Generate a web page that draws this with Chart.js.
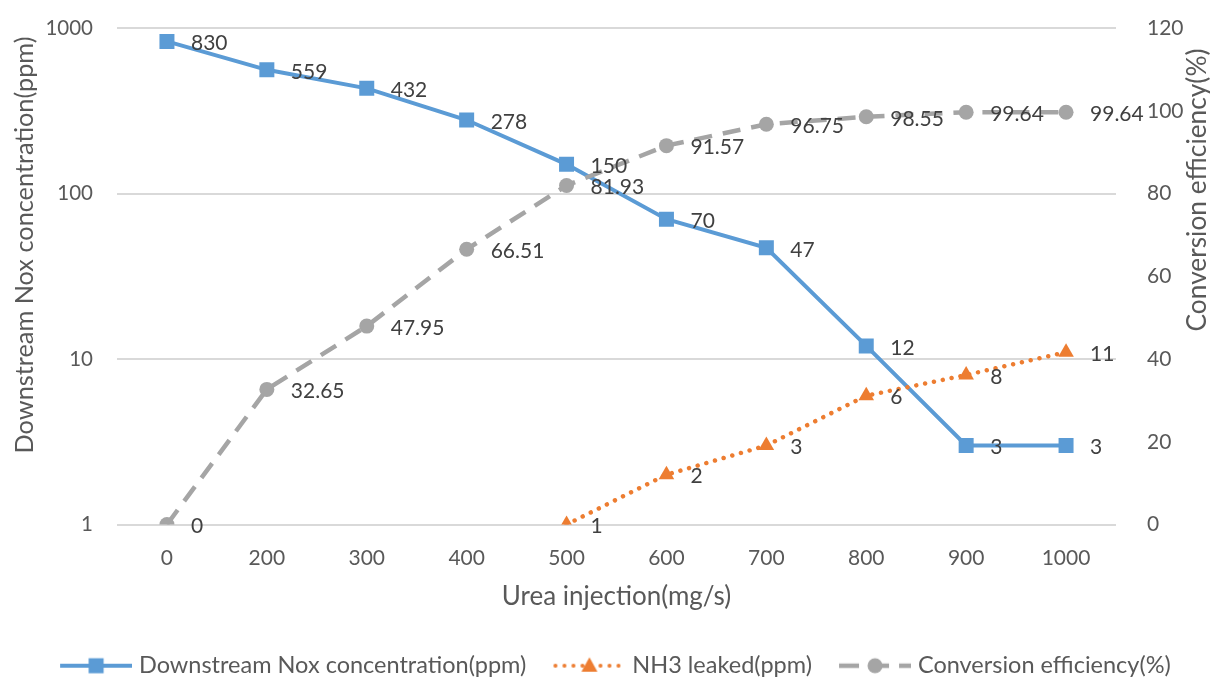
<!DOCTYPE html>
<html>
<head>
<meta charset="utf-8">
<script src="https://cdn.jsdelivr.net/npm/chart.js@4.4.0/dist/chart.umd.min.js"></script>
<style>
  html, body { margin: 0; padding: 0; background: #fff; }
  #wrap { width: 1210px; height: 681px; }
</style>
</head>
<body>
<div id="wrap"><canvas id="myChart"></canvas></div>
<script>
const categories = ["0", "200", "300", "400", "500", "600", "700", "800", "900", "1000"];
const noxValues = [830, 559, 432, 278, 150, 70, 47, 12, 3, 3];
const nh3Values = [null, null, null, null, 1, 2, 3, 6, 8, 11];
const efficiencyValues = [0, 32.65, 47.95, 66.51, 81.93, 91.57, 96.75, 98.55, 99.64, 99.64];
const leftTicks = [1, 10, 100, 1000];
const rightTicks = [0, 20, 40, 60, 80, 100, 120];

const blue = "#5B9BD5";
const orange = "#ED7D31";
const gray = "#A5A5A5";
const textColor = "#595959";
const labelColor = "#404040";

Chart.defaults.font.family = "Lato";

// legend symbols: line + marker, drawn into the right part of a small canvas
function legendSymbol(draw) {
  const c = document.createElement("canvas");
  c.width = 94;
  c.height = 22;
  const g = c.getContext("2d");
  g.translate(22, 11);
  draw(g);
  return c;
}

const noxSymbol = legendSymbol((g) => {
  g.strokeStyle = blue;
  g.lineWidth = 4;
  g.beginPath(); g.moveTo(0, 0); g.lineTo(72, 0); g.stroke();
  g.fillStyle = blue;
  g.fillRect(36 - 7.5, -7.5, 15, 15);
});

const nh3Symbol = legendSymbol((g) => {
  g.strokeStyle = orange;
  g.lineWidth = 4;
  g.lineCap = "round";
  g.setLineDash([0.01, 9]);
  g.beginPath(); g.moveTo(2, 0); g.lineTo(72, 0); g.stroke();
  g.fillStyle = orange;
  g.beginPath(); g.moveTo(36, -8.5); g.lineTo(44, 6); g.lineTo(28, 6); g.closePath(); g.fill();
});

const effSymbol = legendSymbol((g) => {
  g.strokeStyle = gray;
  g.lineWidth = 4.5;
  g.setLineDash([20, 10]);
  g.beginPath(); g.moveTo(0, 0); g.lineTo(72, 0); g.stroke();
  g.fillStyle = gray;
  g.beginPath(); g.arc(36, 0, 7.5, 0, Math.PI * 2); g.fill();
});

const symbols = [noxSymbol, nh3Symbol, effSymbol];

const valueLabels = {
  id: "valueLabels",
  afterDatasetsDraw(chart) {
    const ctx = chart.ctx;
    ctx.save();
    ctx.font = "21px Lato";
    ctx.fillStyle = labelColor;
    ctx.textAlign = "left";
    ctx.textBaseline = "middle";
    chart.data.datasets.forEach((ds, i) => {
      const meta = chart.getDatasetMeta(i);
      meta.data.forEach((pt, j) => {
        const v = ds.data[j];
        if (v === null) return;
        ctx.fillText(String(v), pt.x + 24, pt.y + 2);
      });
    });
    ctx.restore();
  },
};

// both value-axis titles read bottom-to-top, placed like the original
const axisTitles = {
  id: "axisTitles",
  afterDraw(chart) {
    const ctx = chart.ctx;
    const draw = (text, x, y, size) => {
      ctx.save();
      ctx.translate(x, y);
      ctx.rotate(-Math.PI / 2);
      ctx.font = size + "px Lato";
      ctx.fillStyle = textColor;
      ctx.textAlign = "center";
      ctx.textBaseline = "alphabetic";
      ctx.fillText(text, 0, 0);
      ctx.restore();
    };
    draw("Downstream Nox concentration(ppm)", 32.5, 245, 25.3);
    draw("Conversion efficiency(%)", 1206, 190, 26.3);
  },
};

// keep tick padding from pushing the plot area down
function noScalePadding(scale) {
  scale.paddingTop = 0;
  scale.paddingBottom = 0;
}

const ctx = document.getElementById("myChart");

new Chart(ctx, {
  type: "line",
  data: {
    labels: categories,
    datasets: [
      {
        label: "Downstream Nox concentration(ppm)",
        data: noxValues,
        yAxisID: "y",
        borderColor: blue,
        backgroundColor: blue,
        borderWidth: 4,
        pointStyle: "rect",
        pointRadius: 10.6,
        pointHoverRadius: 10.6,
        pointBorderWidth: 0,
        pointBackgroundColor: blue,
        order: 3,
      },
      {
        label: "NH3 leaked(ppm)",
        data: nh3Values,
        yAxisID: "y",
        borderColor: orange,
        backgroundColor: orange,
        borderWidth: 4.5,
        borderDash: [0.01, 9],
        borderCapStyle: "round",
        pointStyle: "triangle",
        pointRadius: 9,
        pointHoverRadius: 9,
        pointBorderWidth: 0,
        pointBackgroundColor: orange,
        order: 2,
      },
      {
        label: "Conversion efficiency(%)",
        data: efficiencyValues,
        yAxisID: "y1",
        borderColor: gray,
        backgroundColor: gray,
        borderWidth: 4.5,
        borderDash: [18, 11],
        pointStyle: "circle",
        pointRadius: 7.5,
        pointHoverRadius: 7.5,
        pointBorderWidth: 0,
        pointBackgroundColor: gray,
        order: 1,
      },
    ],
  },
  options: {
    animation: false,
    responsive: true,
    maintainAspectRatio: false,
    events: [],
    layout: {
      padding: { left: 33, right: 0, top: 28, bottom: -6.5 },
    },
    scales: {
      x: {
        type: "category",
        offset: true,
        grid: { display: false },
        border: { display: false },
        ticks: {
          color: textColor,
          font: { size: 21 },
          padding: 13,
          maxRotation: 0,
        },
        title: {
          display: true,
          text: "Urea injection(mg/s)",
          color: textColor,
          font: { size: 26 },
          padding: { top: 0, bottom: 32 },
        },
        afterFit(scale) {
          scale.height = 119.5;
        },
      },
      y: {
        type: "logarithmic",
        position: "left",
        min: 1,
        max: 1000,
        grid: { color: "#D9D9D9", lineWidth: 2, drawTicks: false },
        border: { display: false },
        ticks: {
          color: textColor,
          font: { size: 20.5 },
          padding: 24,
          callback: (v) => String(v),
        },
        afterBuildTicks(scale) {
          scale.ticks = leftTicks.map((v) => ({ value: v }));
        },
        afterFit(scale) {
          scale.width = 84;
          noScalePadding(scale);
        },
      },
      y1: {
        type: "linear",
        position: "right",
        min: rightTicks[0],
        max: rightTicks[rightTicks.length - 1],
        grid: { display: false },
        border: { display: false },
        ticks: {
          stepSize: rightTicks[1] - rightTicks[0],
          color: textColor,
          font: { size: 21 },
          padding: 23,
        },
        afterFit(scale) {
          scale.width = 94;
          noScalePadding(scale);
        },
      },
    },
    plugins: {
      tooltip: { enabled: false },
      legend: {
        position: "bottom",
        align: "start",
        labels: {
          color: textColor,
          font: { size: 23.5 },
          padding: 10,
          usePointStyle: true,
          pointStyleWidth: 84.25,
          generateLabels: (chart) =>
            chart.data.datasets.map((ds, i) => ({
              text: ds.label,
              pointStyle: symbols[i],
              fontColor: textColor,
              fillStyle: "transparent",
              strokeStyle: "transparent",
              lineWidth: 0,
              datasetIndex: i,
            })),
        },
      },
    },
  },
  plugins: [valueLabels, axisTitles],
});
</script>
</body>
</html>
